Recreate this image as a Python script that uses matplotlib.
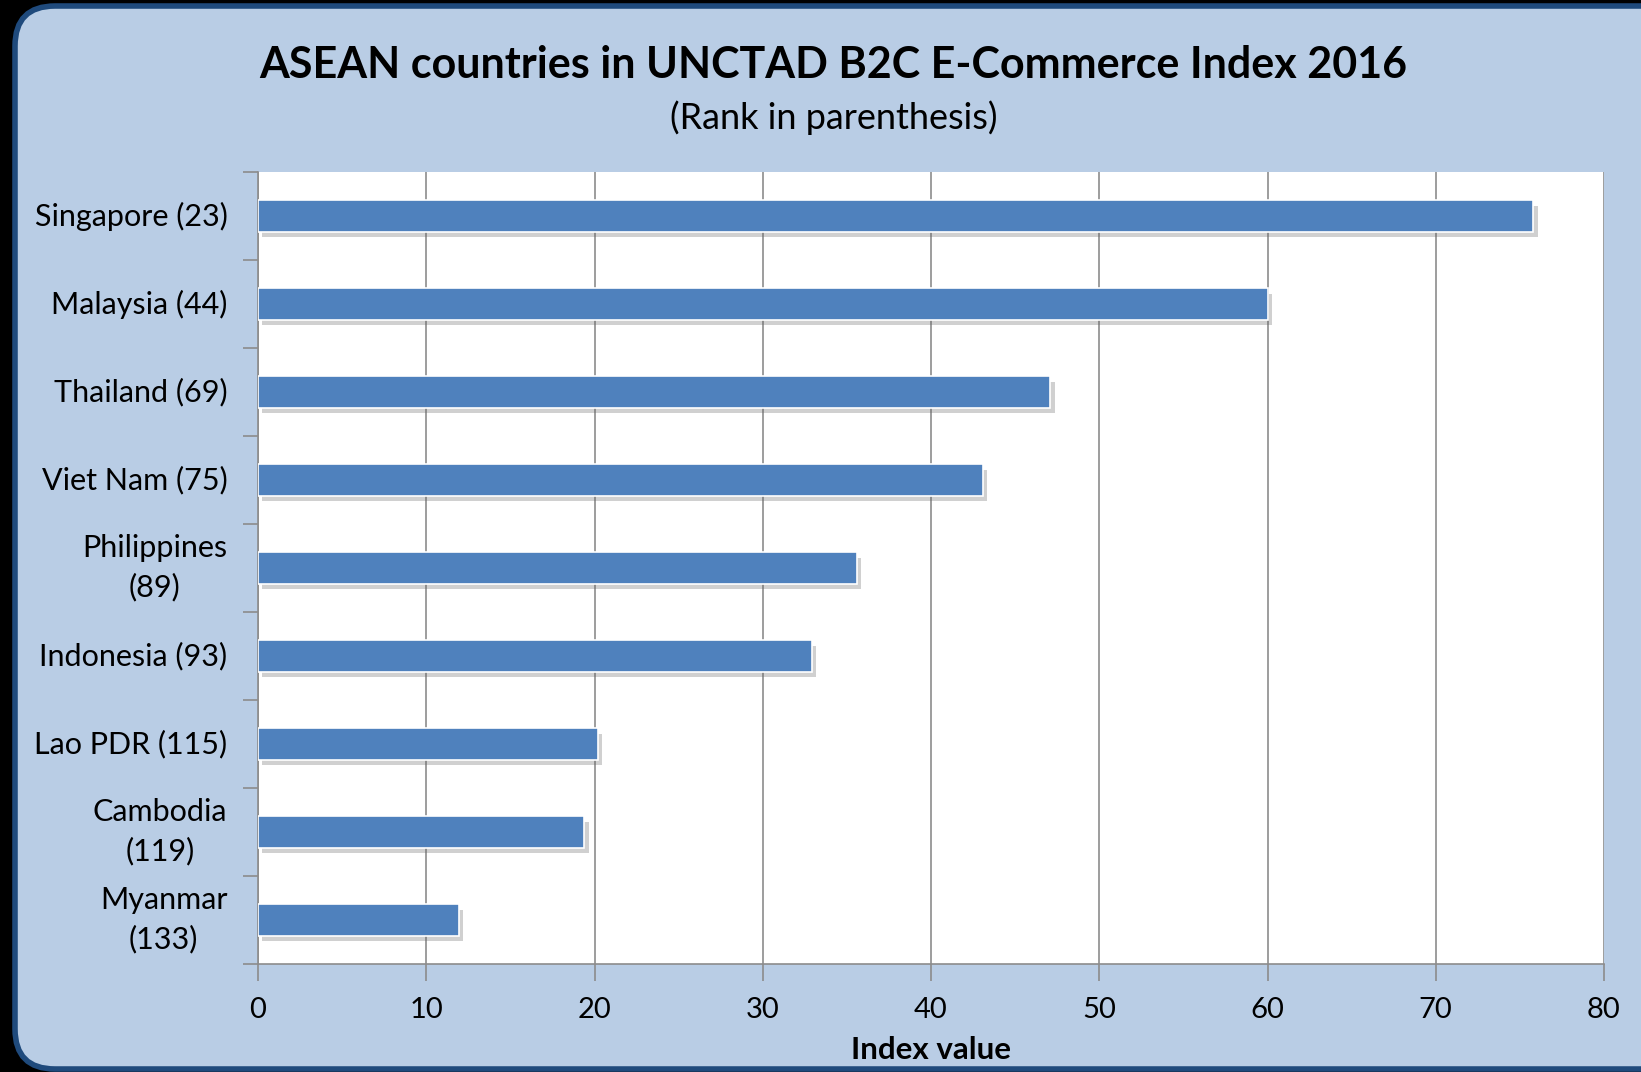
import matplotlib
matplotlib.use("Agg")
import matplotlib.pyplot as plt
from matplotlib.patches import FancyBboxPatch
from matplotlib.transforms import IdentityTransform
import matplotlib.patheffects as pe

countries = ["Singapore (23)", "Malaysia (44)", "Thailand (69)", "Viet Nam (75)",
             "Philippines\n(89)", "Indonesia (93)", "Lao PDR (115)", "Cambodia\n(119)",
             "Myanmar\n(133)"]
values = [75.8, 60.0, 47.1, 43.1, 35.6, 32.9, 20.2, 19.4, 11.95]
xticks = [0, 10, 20, 30, 40, 50, 60, 70, 80]

plt.rcParams['font.family'] = ['Lato', 'DejaVu Sans']

W, H = 1641, 1072
fig = plt.figure(figsize=(W / 100, H / 100), dpi=100, facecolor="black")

bg = FancyBboxPatch((15, 3), W + 40, H - 9,
                    boxstyle="round,pad=0,rounding_size=40",
                    transform=IdentityTransform(), facecolor="#B9CDE5",
                    edgecolor="#1F4A7C", linewidth=4, zorder=0)
fig.patches.append(bg)

ax = fig.add_axes([258 / W, 1 - 964 / H, (1604 - 258) / W, (964 - 172) / H])
ax.set_zorder(2)
ax.set_facecolor("white")

y = list(range(len(countries)))
bars = ax.barh(y, values, height=0.36, color="#4F81BD", edgecolor="white",
               linewidth=1.2, zorder=3)
for b in bars:
    b.set_path_effects([pe.SimplePatchShadow(offset=(3, -4), alpha=0.3,
                                             shadow_rgbFace="#666666"), pe.Normal()])

ax.set_xlim(0, 80)
ax.set_ylim(len(countries) - 0.5, -0.5)
ax.set_xticks(xticks)
ax.set_xticklabels([str(t) for t in xticks], fontsize=21)
ax.set_yticks(y)
ax.set_yticklabels(countries, fontsize=22, multialignment="center", linespacing=1.45,
                   va="center")
ax.set_yticks([i - 0.5 for i in range(len(countries) + 1)], minor=True)
ax.tick_params(axis="y", which="major", length=0, pad=22)
ax.tick_params(axis="y", which="minor", length=11, color="#8C8C8C", width=1.2)
ax.tick_params(axis="x", which="major", length=12, color="#8C8C8C", width=1.2, pad=12)
ax.grid(axis="x", color="#8C8C8C", linewidth=1.2, zorder=1)
ax.set_axisbelow(True)
for s in ["top", "right"]:
    ax.spines[s].set_visible(False)
for s in ["left", "bottom"]:
    ax.spines[s].set_color("#8C8C8C")
    ax.spines[s].set_linewidth(1.2)

ax.set_xlabel("Index value", fontsize=22.5, fontweight="bold", labelpad=9)

fig.text(0.508, 1 - 65 / H, "ASEAN countries in UNCTAD B2C E-Commerce Index 2016",
         ha="center", va="center", fontsize=31, fontweight="bold")
fig.text(0.508, 1 - 118 / H, "(Rank in parenthesis)", ha="center", va="center",
         fontsize=26)

fig.savefig("out.png", dpi=100, facecolor="black")
